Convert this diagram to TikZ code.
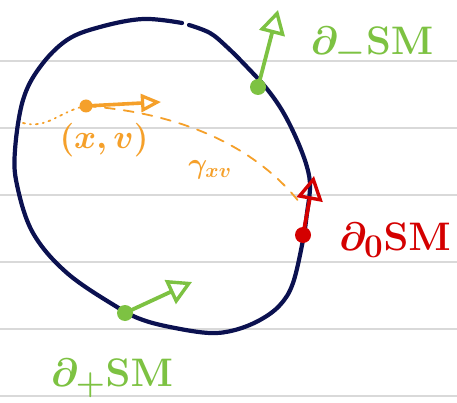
\documentclass[tikz,border=0pt]{standalone}
\usetikzlibrary{arrows.meta}
\definecolor{navy}{HTML}{0B1150}
\definecolor{lgreen}{HTML}{7DC242}
\definecolor{hred}{HTML}{D40000}
\definecolor{horange}{HTML}{F5A02A}
\definecolor{rule}{HTML}{D9D9D9}
\newcommand{\bigtxt}[2]{\scalebox{#1}{\Huge\boldmath #2}}
\tikzset{
  ruleline/.style={rule, line width=1.6pt},
  blob/.style={navy, line width=4.2pt, line cap=round, line join=round},
  vec/.style={line width=3.8pt, line cap=round, -{Triangle[open, length=24pt, width=26pt, line width=3.4pt]}},
  dotpt/.style={circle, fill, inner sep=0pt, minimum size=#1},
  lbl/.style={inner sep=0pt},
}
\begin{document}
\begin{tikzpicture}[x=1pt,y=-1pt]
\useasboundingbox (0,0) rectangle (457,403);
\fill[white] (0,0) rectangle (457,403);
% ruled lines
\foreach \y in {61,128,195,262,329,396} \draw[ruleline] (0,\y) -- (457,\y);
% boundary curve with small gap at top
\draw[blob] plot[smooth, tension=0.6] coordinates {
 (189,25) (210,33) (227,47) (247,67) (267,89) (283,112) (297,140) (307,167) (310,187)
 (307,213) (303,240) (293,283) (280,305) (260,320) (235,330) (210,333) (175,328) (143,320)
 (117,307) (67,273) (33,233) (17,185) (15,150) (23,100) (40,67) (67,40) (100,27) (143,19) (182,23)};
% orange geodesic
\node[dotpt=13pt, horange] (x) at (86,106) {};
\coordinate (xv) at (161,102);
\coordinate (gs) at (23,123);
\coordinate (ge) at (300,203);
\draw[horange, line width=1.8pt, dash pattern=on 2pt off 5pt on 1pt off 5pt, line cap=round] (gs) to[out=-15,in=190] (x.center);
\draw[horange, line width=1.8pt, dash pattern=on 10pt off 9pt, line cap=round]
  (x.center) .. controls (170,112) and (250,140) .. (ge);
\draw[horange, line width=3.6pt, line cap=round, -{Triangle[open, length=20pt, width=18pt, line width=3.2pt]}] (x.center) -- (xv);
\node[lbl, horange] (xl) at (104,140) {\bigtxt{1.35}{$(x,v)$}};
\node[lbl, horange] (gl) at (210,170) {\scalebox{1.4}{\huge\boldmath$\gamma_{xv}$}};
% green outgoing (top)
\node[dotpt=16pt, lgreen] (pm) at (258,87) {};
\coordinate (pmt) at (278,10);
\draw[vec, lgreen] (pm.center) -- (pmt);
\node[lbl, lgreen] (lm) at (372,46) {\bigtxt{1.6}{$\partial_{-}\mathbf{SM}$}};
% red glancing
\node[dotpt=16pt, hred] (p0) at (303,235) {};
\coordinate (p0t) at (314,176);
\draw[vec, hred] (p0.center) -- (p0t);
\node[lbl, hred] (l0) at (395,240) {\bigtxt{1.6}{$\partial_{0}\mathbf{SM}$}};
% green incoming (bottom)
\node[dotpt=16pt, lgreen] (pp) at (125,313) {};
\coordinate (ppt) at (192,282);
\draw[vec, lgreen] (pp.center) -- (ppt);
\node[lbl, lgreen] (lp) at (112,378) {\bigtxt{1.6}{$\partial_{+}\mathbf{SM}$}};
\end{tikzpicture}
\end{document}
